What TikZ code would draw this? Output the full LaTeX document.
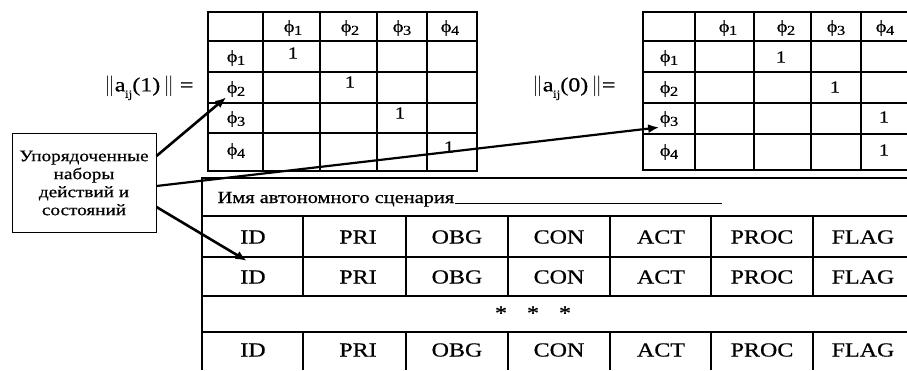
\documentclass[tikz,border=0pt]{standalone}
\usepackage{fontspec}
\setmainfont{Liberation Serif}[FakeStretch = 1.2, FakeBold = 0.6]
\usetikzlibrary{arrows.meta}

\newcommand{\ph}[1]{ϕ\kern-0.5pt\raisebox{-0.35ex}{\scalebox{0.8}{#1}}}
\newcommand{\aij}{a\kern-0.5pt\raisebox{-0.7ex}{\scalebox{0.55}{ij}}}

\tikzset{
	cell/.style = {inner sep = 0pt, font = \fontsize{17}{17}\selectfont},
	field/.style = {inner sep = 0pt, font = \fontsize{20}{20}\selectfont},
	norm/.style = {inner sep = 0pt, font = \fontsize{20}{20}\selectfont},
	link/.style = {line width = 2.6pt, -{Latex[length = 11pt, width = 9pt]}}
}

\begin{document}
\begin{tikzpicture}[x = 1pt, y = -1pt, line width = 1.3pt]
	\useasboundingbox (0,0) rectangle (907,370);
	% matrix a_ij(1)
	\draw (208,12) rectangle (477,171);
	\foreach \x in {263,320,377,427} \draw (\x,12) -- (\x,171);
	\foreach \y in {41,72,103,133} \draw (208,\y) -- (477,\y);
	\foreach \x [count = \i] in {293,350,402,450} \node[cell] (L-c\i) at (\x,28) {\ph{\i}};
	\foreach \y [count = \i] in {58,89,119,151} \node[cell] (L-r\i) at (236,\y) {\ph{\i}};
	\foreach \x/\y [count = \i] in {293/53,350/82,400/113,449/147} \node[cell] (L-one\i) at (\x,\y) {1};
	\node[norm] (L-name) at (149,88) {$\|$\aij(1)\,$\|$ =};
	% matrix a_ij(0)
	\draw (643,12) rectangle (911,170);
	\foreach \x in {695,754,811,861} \draw (\x,12) -- (\x,170);
	\foreach \y in {41,72,103,134} \draw (643,\y) -- (911,\y);
	\foreach \x [count = \i] in {728,786,836,885} \node[cell] (R-c\i) at (\x,28) {\ph{\i}};
	\foreach \y [count = \i] in {58,89,119,152} \node[cell] (R-r\i) at (669,\y) {\ph{\i}};
	\foreach \x/\y [count = \i] in {781/57,835/87,884/117,884/150} \node[cell] (R-one\i) at (\x,\y) {1};
	\node[norm] (R-name) at (574,88) {$\|$\aij(0)\,$\|$=};
	% scenario table
	\draw[line width = 2.4pt] (907,178) -- (202,178) -- (202,370);
	\foreach \y in {216,257,296,332} \draw (202,\y) -- (907,\y);
	\foreach \x in {303,406,508,610,711,813} \draw (\x,216) -- (\x,296) (\x,332) -- (\x,370);
	\node[field, font = \fontsize{17}{17}\selectfont, anchor = base west] (S-name) at (217,203) {Имя автономного сценария\ };
	\coordinate (S-end) at (722,205);
	\draw[line width = 0.8pt] (S-name.base east) -- (S-name.base east -| S-end);
	\foreach \y [count = \r] in {237,277,350} {
		\foreach \x/\t in {253/ID,358/PRI,457/OBG,559/CON,661/ACT,762/PROC,863/FLAG}
			\node[field] (S-\t\r) at (\x,\y) {\t};
	}
	\node[field] (S-dots) at (533,313) {*\hspace{20pt}*\hspace{20pt}*};
	% ordered sets
	\node[draw, line width = 1pt, minimum width = 144pt, minimum height = 99pt, align = center,
		font = \fontsize{16}{18}\selectfont] (sets) at (84,183) {Упорядоченные\\наборы\\действий и\\состояний};
	\draw[link] ([yshift = 27pt]sets.east) -- (L-r2.south west);
	\draw[link, line width = 2.2pt] ([yshift = -3pt]sets.east) -- (R-r3.south west);
	\draw[link] ([yshift = -24pt]sets.east) -- ([shift = {(7pt,9pt)}]S-ID2.north west);
\end{tikzpicture}
\end{document}
